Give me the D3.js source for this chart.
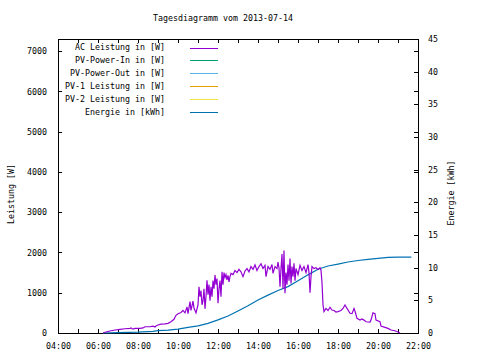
<!DOCTYPE html>
<html><head><meta charset="utf-8">
<script src="https://cdn.jsdelivr.net/npm/d3@7"></script>
<style>
html,body{margin:0;padding:0;background:#fff;}
svg{display:block;}
text{font-family:"DejaVu Sans Mono",monospace;font-size:8.3px;fill:#000;}
</style></head><body>
<svg id="c" width="480" height="360"></svg>
<script>
// ---- data ----
const titleText = "Tagesdiagramm vom 2013-07-14";
const xTickLabels = ["04:00","06:00","08:00","10:00","12:00","14:00","16:00","18:00","20:00","22:00"];
const yTicks = [0,1000,2000,3000,4000,5000,6000,7000];
const y2Ticks = [0,5,10,15,20,25,30,35,40,45];
const legendNames = ["AC Leistung in [W]","PV-Power-In in [W]","PV-Power-Out in [W]","PV-1 Leistung in [W]","PV-2 Leistung in [W]","Energie in [kWh]"];
const legendColors = ["#9400d3","#009e73","#56b4e9","#e69f00","#f0e442","#0072b2"];

const acTimes = ["06:15","06:24","06:36","06:51","07:06","07:21","07:36","07:39","07:45","07:51","08:06","08:15","08:21","08:36","08:45","08:51","08:54","09:00","09:09","09:21","09:30","09:39","09:48","09:54","10:00","10:09","10:15","10:21","10:27","10:30","10:36","10:39","10:45","10:48","10:54","11:00","11:03","11:06","11:09","11:12","11:15","11:18","11:21","11:24","11:27","11:30","11:33","11:36","11:39","11:42","11:45","11:48","11:51","11:54","11:57","12:00","12:03","12:06","12:09","12:12","12:15","12:18","12:21","12:24","12:27","12:30","12:33","12:36","12:39","12:45","12:51","12:57","13:03","13:09","13:15","13:21","13:27","13:33","13:39","13:45","13:51","13:57","14:03","14:09","14:15","14:21","14:24","14:30","14:36","14:42","14:45","14:51","14:57","15:00","15:03","15:06","15:09","15:12","15:15","15:18","15:21","15:24","15:27","15:30","15:33","15:36","15:39","15:42","15:45","15:48","15:51","15:54","16:00","16:06","16:12","16:18","16:24","16:30","16:33","16:36","16:39","16:42","16:48","16:54","17:00","17:06","17:09","17:12","17:15","17:18","17:24","17:30","17:36","17:42","17:48","17:54","18:00","18:09","18:15","18:21","18:27","18:36","18:42","18:48","18:51","18:57","19:06","19:12","19:18","19:24","19:36","19:39","19:45","19:51","19:54","20:06","20:09","20:21","20:30","20:39","20:51","21:00","21:06"];
const acValues = [0,25,50,75,90,105,115,125,95,115,115,125,155,155,170,150,175,200,220,225,240,280,340,440,480,510,560,500,650,480,780,560,790,620,500,700,1150,900,1050,700,800,1100,600,900,1310,950,1200,800,1150,900,1300,1100,1440,1200,1350,740,1100,1300,900,1520,1200,1500,1380,1450,1320,1430,1270,1400,1480,1450,1550,1500,1580,1520,1400,1540,1600,1520,1650,1580,1690,1550,1650,1720,1600,1680,1400,1650,1580,1700,1480,1650,1600,1760,1620,1150,1600,1960,1100,2050,985,1500,1200,1700,1300,1850,1230,1650,1400,1730,1300,1600,1450,1680,1550,1650,1500,1700,1500,1000,1400,1650,1600,1620,1580,1620,1560,1250,700,530,610,560,640,570,560,520,530,560,610,695,610,490,480,610,540,365,320,350,320,280,270,320,500,480,320,280,175,140,115,75,55,25,0];

const enTimes = ["06:15","07:00","08:00","08:45","09:00","09:30","10:00","10:30","11:00","11:30","12:00","12:30","13:00","13:30","14:00","14:30","15:00","15:30","16:00","16:30","17:00","17:30","18:00","18:30","19:00","19:30","20:00","20:30","21:00","21:40"];
const enValues = [0,0.05,0.12,0.25,0.35,0.45,0.6,0.87,1.1,1.48,2.0,2.6,3.37,4.18,5.05,5.8,6.5,7.1,8.0,8.9,9.75,10.25,10.55,10.87,11.1,11.27,11.43,11.58,11.62,11.62];

// ---- layout ----
const L=58,R=418,T=39,B=333;
const toH = s => { const [h,m]=s.split(":").map(Number); return h+m/60; };
const x = d3.scaleLinear().domain([4,22]).range([L,R]);
const y = d3.scaleLinear().domain([0,7300]).range([B,T]);
const y2 = d3.scaleLinear().domain([0,45]).range([B,T]);

const svg = d3.select("#c");

// title
svg.append("text").attr("x",223).attr("y",21).attr("text-anchor","middle").text(titleText);

// axes (ticks inward)
const hourTicks = d3.range(4,23,1);
const fmt = h => (h%2===0) ? xTickLabels[(h-4)/2] : "";
const gx = svg.append("g").attr("transform",`translate(0,${B})`)
  .call(d3.axisTop(x).tickValues(hourTicks).tickSize(4).tickFormat(""));
const gxt = svg.append("g").attr("transform",`translate(0,${T})`)
  .call(d3.axisBottom(x).tickValues(hourTicks).tickSize(4).tickFormat(""));
const gxl = svg.append("g").attr("transform",`translate(0,${B})`)
  .call(d3.axisBottom(x).tickValues(hourTicks).tickSize(0).tickPadding(11).tickFormat(fmt));
const gy = svg.append("g").attr("transform",`translate(${L},0)`)
  .call(d3.axisRight(y).tickValues(yTicks).tickSize(4).tickFormat(""));
const gyl = svg.append("g").attr("transform",`translate(${L},0)`)
  .call(d3.axisLeft(y).tickValues(yTicks).tickSize(0).tickPadding(11).tickFormat(d=>String(d)));
const gyr = svg.append("g").attr("transform",`translate(${R},0)`)
  .call(d3.axisLeft(y).tickValues(yTicks).tickSize(4).tickFormat(""));
const gy2 = svg.append("g").attr("transform",`translate(${R},0)`)
  .call(d3.axisLeft(y2).tickValues(y2Ticks).tickSize(4).tickFormat(""));
const gy2l = svg.append("g").attr("transform",`translate(${R},0)`)
  .call(d3.axisRight(y2).tickValues(y2Ticks).tickSize(0).tickPadding(10).tickFormat(d=>String(d)));
svg.selectAll(".domain").remove();
svg.selectAll(".tick line").attr("stroke","#000").attr("shape-rendering","crispEdges");
svg.selectAll(".tick text").style("font-family",'"DejaVu Sans Mono",monospace').style("font-size","8.3px").attr("fill","#000");
gxl.selectAll(".tick text").attr("dy","0.55em");

// frame
svg.append("rect").attr("x",L+0.5).attr("y",T+0.5).attr("width",R-L).attr("height",B-T)
  .attr("fill","none").attr("stroke","#000").attr("shape-rendering","crispEdges");

// axis titles
svg.append("text").attr("transform","translate(14,194) rotate(-90)").attr("text-anchor","middle").text("Leistung [W]");
svg.append("text").attr("transform","translate(454,193) rotate(-90)").attr("text-anchor","middle").text("Energie [kWh]");

// lines
const ac = acTimes.map((t,i)=>({h:toH(t),v:acValues[i]}));
const en = enTimes.map((t,i)=>({h:toH(t),v:enValues[i]}));
svg.append("path").datum(en)
  .attr("d",d3.line().x(d=>x(d.h)).y(d=>y2(d.v)))
  .attr("fill","none").attr("stroke",legendColors[5]).attr("stroke-width",1.2);
svg.append("path").datum(ac)
  .attr("d",d3.line().x(d=>x(d.h)).y(d=>y(d.v)))
  .attr("fill","none").attr("stroke",legendColors[0]).attr("stroke-width",1.2);

// legend
legendNames.forEach((n,i)=>{
  const yy = 47.5 + i*12.93;
  svg.append("text").attr("x",165).attr("y",yy).attr("dy","0.35em").attr("text-anchor","end").text(n);
  svg.append("line").attr("x1",190).attr("x2",218).attr("y1",Math.round(yy)+0.5).attr("y2",Math.round(yy)+0.5)
    .attr("stroke",legendColors[i]).attr("stroke-width",1).attr("shape-rendering","crispEdges");
});
</script>
</body></html>
